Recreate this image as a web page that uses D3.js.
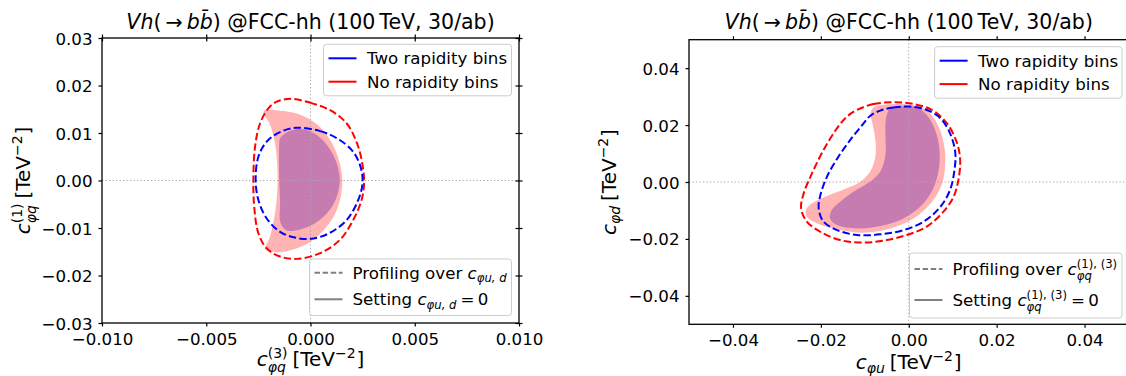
<!DOCTYPE html>
<html>
<head>
<meta charset="utf-8">
<script src="https://cdn.jsdelivr.net/npm/d3@7"></script>
<style>
  body { margin: 0; background: #fff; }
  svg { font-family: "DejaVu Sans", sans-serif; }
  text { white-space: pre; }
</style>
</head>
<body>
<svg id="fig" width="1126" height="376"></svg>
<script>
// ---- data ----
const leftTicksX = [-0.01, -0.005, 0, 0.005, 0.01];
const leftTicksY = [-0.03, -0.02, -0.01, 0, 0.01, 0.02, 0.03];
const rightTicks = [-0.04, -0.02, 0, 0.02, 0.04];

// left panel: c_phiq^(3) vs c_phiq^(1)
const leftRedDashed = [[-0.00096,0.0172],[-0.00003,0.0164],[0.00094,0.0148],[0.00174,0.0120],[0.00229,0.0071],
  [0.00253,0.0022],[0.00257,-0.0006],[0.00245,-0.0041],[0.00205,-0.0083],[0.00141,-0.0125],[0.00046,-0.0153],
  [-0.00066,-0.0165],[-0.00146,-0.0160],[-0.0021,-0.0143],[-0.0025,-0.0111],[-0.0027,-0.0055],[-0.00274,0.0001],
  [-0.00266,0.0071],[-0.00242,0.0120],[-0.00202,0.0152],[-0.00162,0.0166]];
const leftBlueDashed = [[-0.0007,0.0111],[0.00046,0.0104],[0.00126,0.0089],[0.00198,0.0064],[0.00237,0.0033],
  [0.0025,-0.0003],[0.00229,-0.0041],[0.00174,-0.0083],[0.00094,-0.0110],[0.00013,-0.0122],[-0.00066,-0.0121],
  [-0.00146,-0.0108],[-0.0021,-0.0080],[-0.0025,-0.0041],[-0.00263,0.0001],[-0.0025,0.0050],[-0.0021,0.0082],
  [-0.00146,0.0102]];
const leftRedFill = [[-0.00225,0.0146],[-0.00146,0.0147],[-0.00066,0.0141],[0.00013,0.0124],[0.00078,0.0096],
  [0.00126,0.0057],[0.0015,0.0015],[0.0015,-0.0020],[0.00126,-0.0062],[0.00078,-0.0097],[0.0,-0.0129],
  [-0.00082,-0.0145],[-0.00162,-0.0151],[-0.00215,-0.0146],[-0.00194,-0.0118],[-0.0017,-0.0069],[-0.00159,-0.0020],
  [-0.00159,0.0029],[-0.0017,0.0078],[-0.00196,0.0120]];
const leftBlueFill = [[-0.00146,0.0089],[-0.00098,0.0105],[-0.00035,0.0108],[0.0003,0.0096],[0.00085,0.0071],
  [0.00126,0.0036],[0.0014,0.0001],[0.00126,-0.0034],[0.00085,-0.0066],[0.00022,-0.0090],[-0.0005,-0.0103],
  [-0.00114,-0.0105],[-0.00143,-0.0090],[-0.00146,-0.0041],[-0.0015,0.0001],[-0.00151,0.0050],[-0.0015,0.0078]];

// right panel: c_phiu vs c_phid
const rightRedDashed = [[-0.0118,0.0253],[-0.0080,0.0274],[-0.0035,0.0280],[0.0011,0.0274],[0.0053,0.0253],
  [0.0087,0.0206],[0.0110,0.0136],[0.0117,0.0077],[0.0113,0.0007],[0.0102,-0.0052],[0.0079,-0.0104],
  [0.0041,-0.0157],[-0.0004,-0.0186],[-0.0050,-0.0204],[-0.0103,-0.0213],[-0.0156,-0.0204],[-0.0201,-0.0175],
  [-0.0232,-0.0139],[-0.0245,-0.0092],[-0.0239,-0.0040],[-0.0220,0.0031],[-0.0194,0.0112],[-0.0163,0.0189],
  [-0.0141,0.0229]];
const rightBlueDashed = [[-0.0065,0.0251],[-0.0035,0.0262],[0.0003,0.0265],[0.0041,0.0253],[0.0072,0.0224],
  [0.0094,0.0171],[0.0106,0.0101],[0.0103,0.0031],[0.0094,-0.0028],[0.0072,-0.0087],[0.0034,-0.0139],
  [-0.0012,-0.0169],[-0.0065,-0.0184],[-0.0118,-0.0186],[-0.0163,-0.0169],[-0.0194,-0.0139],[-0.0205,-0.0092],
  [-0.0201,-0.0046],[-0.0186,0.0019],[-0.0160,0.0089],[-0.0133,0.0148],[-0.0106,0.0200],[-0.0088,0.0232]];
const rightRedFill = [[-0.0086,0.0247],[-0.0076,0.0265],[-0.0042,0.0273],[0.0003,0.0271],[0.0041,0.0251],
  [0.0068,0.0194],[0.0081,0.0124],[0.0083,0.0066],[0.0076,-0.0005],[0.0053,-0.0069],[0.0011,-0.0128],
  [-0.0042,-0.0163],[-0.0103,-0.0178],[-0.0156,-0.0169],[-0.0209,-0.0145],[-0.0232,-0.0122],[-0.0234,-0.0098],
  [-0.0220,-0.0075],[-0.0186,-0.0049],[-0.0141,-0.0022],[-0.0110,0.0001],[-0.0088,0.0036],[-0.0076,0.0089],
  [-0.0076,0.0148],[-0.0081,0.0194],[-0.0086,0.0229]];
const rightBlueFill = [[-0.0050,0.0235],[-0.0042,0.0259],[-0.0012,0.0267],[0.0019,0.0262],[0.0041,0.0235],
  [0.0060,0.0183],[0.0070,0.0112],[0.0068,0.0042],[0.0056,-0.0022],[0.0030,-0.0081],[-0.0012,-0.0128],
  [-0.0065,-0.0155],[-0.0118,-0.0163],[-0.0163,-0.0151],[-0.0179,-0.0128],[-0.0175,-0.0098],[-0.0156,-0.0069],
  [-0.0126,-0.0034],[-0.0088,0.0001],[-0.0065,0.0036],[-0.0053,0.0095],[-0.0053,0.0159],[-0.0053,0.0206]];

const fs = 16.67;      // tick + legend text
const labelFs = 20;    // axis labels
const titleFs = 20.5;
const svg = d3.select('#fig');

// draws a little mathtext-like label, returns group and width
function mathText(parent, pieces, size) {
  const g = parent.append('g');
  let cx = 0;
  pieces.forEach(p => {
    if (p.t !== undefined) {
      const t = g.append('text').attr('x', cx).attr('y', 0).attr('font-size', size)
        .attr('font-style', p.it ? 'italic' : null).text(p.t);
      cx += t.node().getComputedTextLength();
    } else {
      let w = 0;
      if (p.sup) {
        const t = g.append('text').attr('x', cx).attr('y', -size * 0.42).attr('font-size', size * 0.7).text(p.sup);
        w = Math.max(w, t.node().getComputedTextLength());
      }
      if (p.sub) {
        const t = g.append('text').attr('x', cx).attr('y', size * (p.sup ? 0.3 : 0.22)).attr('font-size', size * 0.7)
          .attr('font-style', 'italic').text(p.sub);
        w = Math.max(w, t.node().getComputedTextLength());
      }
      cx += w + size * 0.04;
    }
  });
  return {g, width: cx};
}

function placeCentered(parent, pieces, size, x, y, rotate) {
  const holder = parent.append('g')
    .attr('transform', `translate(${x},${y})` + (rotate ? ' rotate(-90)' : ''));
  const m = mathText(holder, pieces, size);
  m.g.attr('transform', `translate(${-m.width / 2},0)`);
  return m;
}

function panel(cfg) {
  const x = d3.scaleLinear().domain(cfg.xDomain).range([cfg.x0, cfg.x1]);
  const y = d3.scaleLinear().domain(cfg.yDomain).range([cfg.y1, cfg.y0]);
  const g = svg.append('g');
  const line = d3.line().x(d => x(d[0])).y(d => y(d[1])).curve(d3.curveCatmullRomClosed.alpha(0.5));

  g.append('path').attr('d', line(cfg.redFill)).attr('fill', '#ffb3b3');
  g.append('path').attr('d', line(cfg.blueFill)).attr('fill', '#c67bb1');

  // zero lines
  g.append('line').attr('x1', cfg.x0).attr('x2', cfg.x1).attr('y1', y(0)).attr('y2', y(0))
    .attr('stroke', '#a8a8a8').attr('stroke-width', 1).attr('stroke-dasharray', '1.3,2.2');
  g.append('line').attr('x1', x(0)).attr('x2', x(0)).attr('y1', cfg.y0).attr('y2', cfg.y1)
    .attr('stroke', '#a8a8a8').attr('stroke-width', 1).attr('stroke-dasharray', '1.3,2.2');

  g.append('path').attr('d', line(cfg.redDashed)).attr('fill', 'none')
    .attr('stroke', '#ff0000').attr('stroke-width', 2).attr('stroke-dasharray', '7.4,3.2');
  g.append('path').attr('d', line(cfg.blueDashed)).attr('fill', 'none')
    .attr('stroke', '#0000ff').attr('stroke-width', 2).attr('stroke-dasharray', '7.4,3.2');

  // axes
  const styleAxis = a => {
    a.select('.domain').remove();
    a.selectAll('line').attr('stroke', '#000').attr('stroke-width', 1.2);
    a.selectAll('text').attr('font-size', fs).attr('fill', '#000').attr('font-family', 'DejaVu Sans');
  };
  g.append('g').attr('transform', `translate(0,${cfg.y1})`)
    .call(d3.axisBottom(x).tickValues(cfg.xTicks).tickFormat(d3.format(cfg.xFmt)).tickSize(3.5).tickPadding(6.5))
    .call(styleAxis);
  g.append('g').attr('transform', `translate(${cfg.x0},0)`)
    .call(d3.axisLeft(y).tickValues(cfg.yTicks).tickFormat(d3.format(cfg.yFmt)).tickSize(3.5).tickPadding(6))
    .call(styleAxis)
    .selectAll('text').attr('dy', '0.36em');
  g.append('g').attr('transform', `translate(0,${cfg.y0})`)
    .call(d3.axisTop(x).tickValues(cfg.xTicks).tickFormat('').tickSize(3.5)).call(styleAxis);
  if (cfg.inout) {
    g.append('g').attr('transform', `translate(0,${cfg.y0})`)
      .call(d3.axisBottom(x).tickValues(cfg.xTicks).tickFormat('').tickSize(3.5)).call(styleAxis);
    g.append('g').attr('transform', `translate(${cfg.x1},0)`)
      .call(d3.axisRight(y).tickValues(cfg.yTicks).tickFormat('').tickSize(3.5)).call(styleAxis);
    g.append('g').attr('transform', `translate(${cfg.x1},0)`)
      .call(d3.axisLeft(y).tickValues(cfg.yTicks).tickFormat('').tickSize(3.5)).call(styleAxis);
  }

  g.append('rect').attr('x', cfg.x0).attr('y', cfg.y0)
    .attr('width', cfg.x1 - cfg.x0).attr('height', cfg.y1 - cfg.y0)
    .attr('fill', 'none').attr('stroke', '#000').attr('stroke-width', 1.3);

  // title
  const cx = (cfg.x0 + cfg.x1) / 2;
  placeCentered(g, [{t: 'Vh', it: true}, {t: '(\u2009\u2192\u2009'}, {t: 'bb\u0304', it: true},
    {t: ') @FCC-hh (100\u2009TeV, 30/ab)'}], titleFs, cx, 29);

  // axis labels
  placeCentered(g, cfg.xLabel, labelFs, cx, cfg.xLabelY);
  placeCentered(g, cfg.yLabel, labelFs, cfg.yLabelX, (cfg.y0 + cfg.y1) / 2, true);

  // legend 1
  const L1 = cfg.leg1;
  g.append('rect').attr('x', L1.x).attr('y', L1.y).attr('width', L1.w).attr('height', 51.5).attr('rx', 3)
    .attr('fill', 'white').attr('fill-opacity', 0.8).attr('stroke', '#cccccc').attr('stroke-width', 1);
  [['Two rapidity bins', '#0000ff'], ['No rapidity bins', '#ff0000']].forEach((e, i) => {
    const ly = L1.y + 14 + i * 23.4;
    g.append('line').attr('x1', L1.x + 5).attr('x2', L1.x + 33).attr('y1', ly).attr('y2', ly)
      .attr('stroke', e[1]).attr('stroke-width', 2);
    g.append('text').attr('x', L1.x + 43.5).attr('y', ly + 6).attr('font-size', fs).text(e[0]);
  });

  // legend 2
  const L2 = cfg.leg2;
  g.append('rect').attr('x', L2.x).attr('y', L2.y).attr('width', L2.w).attr('height', L2.h).attr('rx', 3)
    .attr('fill', 'white').attr('fill-opacity', 0.8).attr('stroke', '#cccccc').attr('stroke-width', 1);
  L2.rows.forEach((row, i) => {
    const ly = L2.y + L2.first + i * L2.gap;
    g.append('line').attr('x1', L2.x + 5).attr('x2', L2.x + 33).attr('y1', ly).attr('y2', ly)
      .attr('stroke', '#808080').attr('stroke-width', 2)
      .attr('stroke-dasharray', i === 0 ? '5.5,2.6' : null);
    const m = mathText(g, row, fs);
    m.g.attr('transform', `translate(${L2.x + 43},${ly + 6})`);
  });
}

panel({
  x0: 102, x1: 519, y0: 38, y1: 323,
  xDomain: [-0.01, 0.01], yDomain: [-0.03, 0.03],
  xTicks: leftTicksX, yTicks: leftTicksY, xFmt: '.3f', yFmt: '.2f', inout: true,
  redFill: leftRedFill, blueFill: leftBlueFill, redDashed: leftRedDashed, blueDashed: leftBlueDashed,
  xLabel: [{t: 'c', it: true}, {sub: '\u03c6q', sup: '(3)'}, {t: '\u2009[TeV'}, {sup: '\u22122'}, {t: ']'}],
  yLabel: [{t: 'c', it: true}, {sub: '\u03c6q', sup: '(1)'}, {t: '\u2009[TeV'}, {sup: '\u22122'}, {t: ']'}],
  xLabelY: 366, yLabelX: 30,
  leg1: {x: 323.5, y: 44.3, w: 188},
  leg2: {x: 309.5, y: 259, w: 202, h: 56.5, first: 13.7, gap: 26.6,
    rows: [[{t: 'Profiling over\u00a0'}, {t: 'c', it: true}, {sub: '\u03c6u, d'}],
           [{t: 'Setting\u00a0'}, {t: 'c', it: true}, {sub: '\u03c6u, d'}, {t: '\u2009=\u20090'}]]}
});

panel({
  x0: 689, x1: 1128.5, y0: 39.7, y1: 324.3,
  xDomain: [-0.05, 0.05], yDomain: [-0.05, 0.05],
  xTicks: rightTicks, yTicks: rightTicks, xFmt: '.2f', yFmt: '.2f', inout: false,
  redFill: rightRedFill, blueFill: rightBlueFill, redDashed: rightRedDashed, blueDashed: rightBlueDashed,
  xLabel: [{t: 'c', it: true}, {sub: '\u03c6u'}, {t: '\u2009[TeV'}, {sup: '\u22122'}, {t: ']'}],
  yLabel: [{t: 'c', it: true}, {sub: '\u03c6d'}, {t: '\u2009[TeV'}, {sup: '\u22122'}, {t: ']'}],
  xLabelY: 369, yLabelX: 616,
  leg1: {x: 934.6, y: 46.7, w: 187.5},
  leg2: {x: 909.5, y: 253, w: 212.5, h: 65, first: 16, gap: 31,
    rows: [[{t: 'Profiling over\u00a0'}, {t: 'c', it: true}, {sub: '\u03c6q', sup: '(1), (3)'}],
           [{t: 'Setting\u00a0'}, {t: 'c', it: true}, {sub: '\u03c6q', sup: '(1), (3)'}, {t: '\u2009=\u20090'}]]}
});
</script>
</body>
</html>
